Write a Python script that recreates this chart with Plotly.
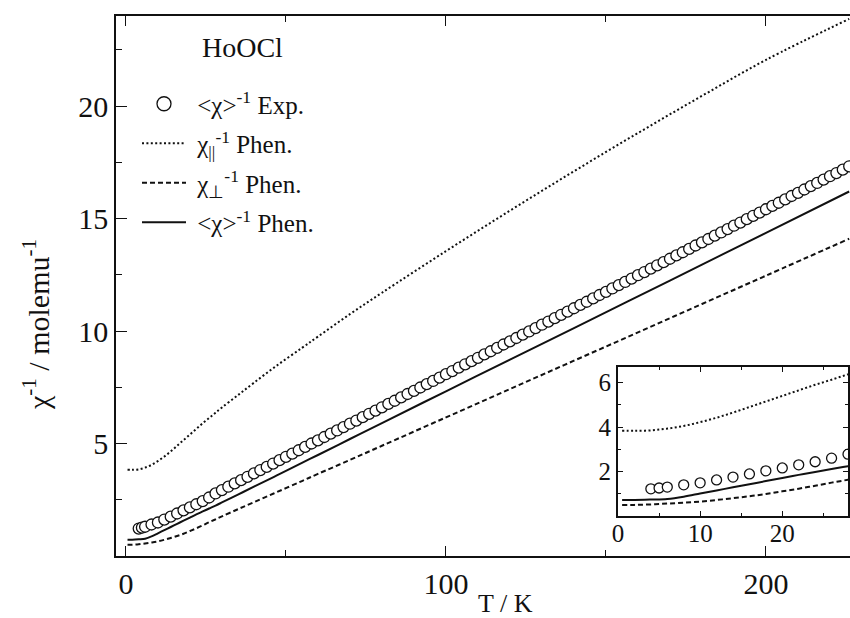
import plotly.graph_objects as go

# ---------------- data ----------------
T_exp = [4, 5, 6, 8, 10, 12, 14, 16, 18, 20, 22, 24, 26, 28, 30, 32, 34, 36, 38, 40,
         42, 44, 46, 48, 50, 52, 54, 56, 58, 60, 62, 64, 66, 68, 70, 72, 74, 76, 78, 80,
         82, 84, 86, 88, 90, 92, 94, 96, 98, 100, 102, 104, 106, 108, 110, 112, 114, 116, 118, 120,
         122, 124, 126, 128, 130, 132, 134, 136, 138, 140, 142, 144, 146, 148, 150, 152, 154, 156, 158, 160,
         162, 164, 166, 168, 170, 172, 174, 176, 178, 180, 182, 184, 186, 188, 190, 192, 194, 196, 198, 200,
         202, 204, 206, 208, 210, 212, 214, 216, 218, 220, 222, 224, 226]
chi_exp = [1.22, 1.26, 1.30, 1.40, 1.49, 1.62, 1.75, 1.89, 2.03, 2.16, 2.30, 2.44, 2.60, 2.78, 2.93, 3.08, 3.23, 3.37, 3.52, 3.67,
           3.82, 3.96, 4.11, 4.26, 4.41, 4.55, 4.70, 4.85, 5.00, 5.14, 5.29, 5.44, 5.58, 5.73, 5.88, 6.02, 6.17, 6.32, 6.46, 6.61,
           6.76, 6.90, 7.05, 7.20, 7.34, 7.49, 7.64, 7.78, 7.93, 8.08, 8.22, 8.37, 8.52, 8.66, 8.81, 8.96, 9.10, 9.25, 9.40, 9.54,
           9.69, 9.84, 9.98, 10.13, 10.28, 10.42, 10.57, 10.72, 10.86, 11.01, 11.16, 11.30, 11.45, 11.60, 11.74, 11.89, 12.04, 12.18, 12.33, 12.48,
           12.62, 12.77, 12.92, 13.06, 13.21, 13.36, 13.50, 13.65, 13.80, 13.94, 14.09, 14.24, 14.38, 14.53, 14.68, 14.82, 14.97, 15.12, 15.26, 15.41,
           15.56, 15.70, 15.85, 16.00, 16.14, 16.29, 16.44, 16.58, 16.73, 16.88, 17.02, 17.17, 17.32]

T_phen = [0.5, 2, 4, 6, 8, 10, 12, 14, 16, 18, 20, 22, 24, 26, 28, 30, 35, 40, 47, 55,
          60, 70, 80, 100, 120, 140, 160, 180, 200, 226]
chi_par = [3.83, 3.83, 3.85, 3.93, 4.05, 4.22, 4.42, 4.65, 4.90, 5.15, 5.40, 5.65, 5.90, 6.13, 6.37, 6.60, 7.15, 7.70, 8.45, 9.25,
           9.75, 10.75, 11.70, 13.55, 15.35, 17.10, 18.80, 20.45, 22.05, 23.87]
chi_perp = [0.50, 0.50, 0.52, 0.56, 0.60, 0.65, 0.72, 0.80, 0.89, 0.99, 1.11, 1.23, 1.36, 1.50, 1.63, 1.76, 2.08, 2.39, 2.83, 3.33,
            3.65, 4.27, 4.90, 6.16, 7.42, 8.68, 9.94, 11.20, 12.46, 14.10]
chi_avg = [0.72, 0.72, 0.74, 0.77, 0.87, 1.01, 1.15, 1.29, 1.43, 1.57, 1.71, 1.85, 1.98, 2.11, 2.24, 2.38, 2.73, 3.08, 3.57, 4.14,
           4.49, 5.20, 5.91, 7.32, 8.73, 10.13, 11.54, 12.95, 14.36, 16.20]

main_xticks = [0, 100, 200]
main_xminor = [50, 150]
main_yticks = [5, 10, 15, 20]
main_yminor = [2.5, 7.5, 12.5, 17.5, 22.5]
inset_xticks = [0, 10, 20]
inset_xminor = [5, 15, 25]
inset_yticks = [2, 4, 6]
inset_yminor = [1, 3, 5]

names = ["&nbsp;&lt;χ&gt;<sup>-1</sup> Exp.",
         "&nbsp;χ<sub>||</sub><sup>-1</sup> Phen.",
         "&nbsp;χ<sub>⊥</sub><sup>-1</sup> Phen.",
         "&nbsp;&lt;χ&gt;<sup>-1</sup> Phen."]

FONT = "Liberation Serif"
BLACK = "#111111"

# plot-area geometry in pixels (used only to place the layout pieces)
W, H = 850, 618
L, R, TOP, BOT = 116, 850, 16, 556
PW, PH = R - L, BOT - TOP


def px(x):
    return (x - L) / PW


def py(y):
    return (BOT - y) / PH


fig = go.Figure()

# legend proxy for the experimental points (larger symbol as in the original key)
fig.add_trace(go.Scatter(x=[None], y=[None], mode="markers", name=names[0], legendgroup="g0",
                         marker=dict(symbol="circle", size=14, color="white",
                                     line=dict(color=BLACK, width=1.3))))

styles = [dict(color=BLACK, width=2, dash="2px,2.4px"),
          dict(color=BLACK, width=2, dash="5px,3px"),
          dict(color=BLACK, width=2)]
curves = [chi_par, chi_perp, chi_avg]

for ax, show in (("", True), ("2", False)):
    xa, ya = "x" + ax, "y" + ax
    for i, (c, st) in enumerate(zip(curves, styles)):
        fig.add_trace(go.Scatter(x=T_phen, y=c, mode="lines", name=names[i + 1], showlegend=show,
                                 legendgroup="g%d" % (i + 1), xaxis=xa, yaxis=ya,
                                 line_shape="spline", line=st))
    fig.add_trace(go.Scatter(x=T_exp, y=chi_exp, mode="markers", name=names[0], showlegend=False,
                             legendgroup="g0", xaxis=xa, yaxis=ya,
                             marker=dict(symbol="circle", size=11 if show else 10, color="white",
                                         line=dict(color=BLACK, width=1.3))))

fig.update_layout(
    width=W, height=H,
    margin=dict(l=L, r=W - R, t=TOP, b=H - BOT, pad=0),
    paper_bgcolor="white", plot_bgcolor="white",
    font=dict(family=FONT, color=BLACK, size=25),
    showlegend=True,
    legend=dict(x=px(137), y=py(81), xanchor="left", yanchor="top",
                bgcolor="rgba(0,0,0,0)", borderwidth=0, itemwidth=44,
                font=dict(family=FONT, size=25, color=BLACK), tracegroupgap=4,
                traceorder="grouped"),
    xaxis=dict(domain=[0, 1], range=[-3.1, 226.25], showline=True, linecolor=BLACK, linewidth=1.5,
               mirror="allticks", ticks="inside", ticklen=10, tickwidth=1.3, tickcolor=BLACK,
               tickvals=main_xticks, ticktext=[str(v) for v in main_xticks],
               tickfont=dict(size=30, family=FONT), showgrid=False, zeroline=False,
               minor=dict(tickvals=main_xminor, ticks="inside", ticklen=6, tickwidth=1.3,
                          tickcolor=BLACK, showgrid=False)),
    yaxis=dict(domain=[0, 1], range=[0, 24], showline=True, linecolor=BLACK, linewidth=1.5,
               mirror=False, ticks="inside", ticklen=11, tickwidth=1.3, tickcolor=BLACK,
               tickvals=main_yticks, ticktext=[str(v) for v in main_yticks],
               tickfont=dict(size=30, family=FONT), showgrid=False, zeroline=False,
               minor=dict(tickvals=main_yminor, ticks="inside", ticklen=6, tickwidth=1.3,
                          tickcolor=BLACK, showgrid=False)),
    xaxis2=dict(domain=[px(618), px(848)], range=[0, 28], anchor="y2",
                showline=True, linecolor=BLACK, linewidth=2, mirror="allticks",
                ticks="inside", ticklen=5, tickwidth=1.3, tickcolor=BLACK,
                tickvals=inset_xticks, ticktext=[str(v) for v in inset_xticks],
                tickfont=dict(size=25, family=FONT), showgrid=False, zeroline=False,
                ticklabelstandoff=-6,
                minor=dict(tickvals=inset_xminor, ticks="inside", ticklen=3, tickwidth=1.2,
                           tickcolor=BLACK, showgrid=False)),
    yaxis2=dict(domain=[py(516), py(367)], range=[0, 6.7], anchor="x2",
                showline=True, linecolor=BLACK, linewidth=2, mirror="allticks",
                ticks="inside", ticklen=5, tickwidth=1.3, tickcolor=BLACK,
                tickvals=inset_yticks, ticktext=[str(v) for v in inset_yticks],
                tickfont=dict(size=25, family=FONT), showgrid=False, zeroline=False,
                minor=dict(tickvals=inset_yminor, ticks="inside", ticklen=3, tickwidth=1.2,
                           tickcolor=BLACK, showgrid=False)),
    annotations=[
        dict(text="HoOCl", x=px(200), y=py(48), xref="paper", yref="paper",
             xanchor="left", yanchor="middle", showarrow=False,
             font=dict(family=FONT, size=28, color=BLACK)),
        dict(text="T / K", x=px(505), y=py(603), xref="paper", yref="paper",
             xanchor="center", yanchor="middle", showarrow=False,
             font=dict(family=FONT, size=26, color=BLACK)),
        dict(text="χ<sup>-1</sup> / molemu<sup>-1</sup>", x=px(36), y=py(325), xref="paper", yref="paper",
             xanchor="center", yanchor="middle", showarrow=False, textangle=-90,
             font=dict(family=FONT, size=30, color=BLACK)),
    ],
)

fig.write_html("out.html")
